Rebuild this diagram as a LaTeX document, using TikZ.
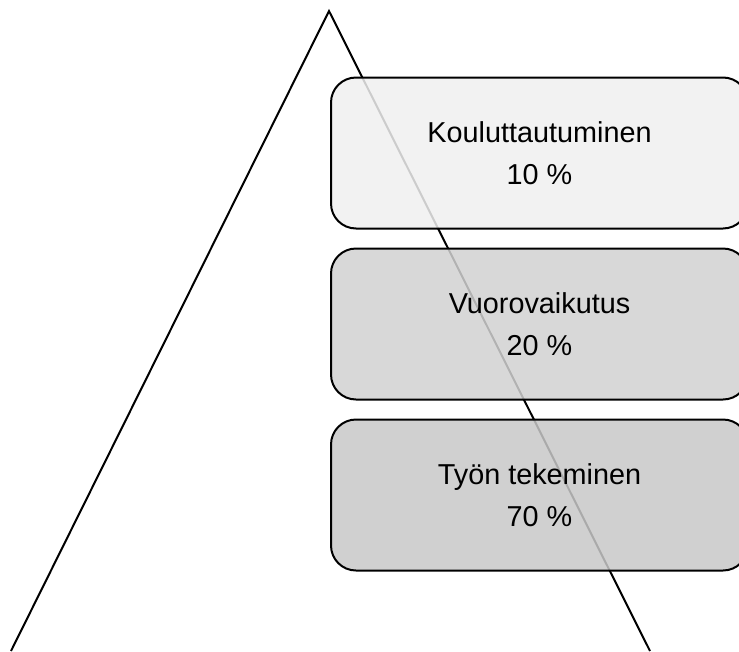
\documentclass[tikz,border=0pt]{standalone}
\usepackage{fontspec}
\setmainfont{Liberation Sans}
\begin{document}
\begin{tikzpicture}[x=1pt,y=-1pt,
  level/.style={draw=black, line width=2pt, rounded corners=25pt,
    fill opacity=0.85, text opacity=1,
    minimum width=417pt, minimum height=151pt, inner sep=0pt,
    align=center, font=\fontsize{28.8pt}{42pt}\selectfont},
  edge/.style={draw=black, line width=2pt, line join=miter}]
  \useasboundingbox (0,0) rectangle (739,651);
  \clip (0,0) rectangle (739,651);
  \fill[white] (0,0) rectangle (739,651);
  % pyramid sides
  \coordinate (apex) at (329,11);
  \coordinate (bl) at (11,651);
  \coordinate (br) at (650,651);
  \draw[edge] (bl) -- (apex) -- (br);
  % levels
  \node[level, fill={rgb,255:red,240;green,240;blue,240}] (k) at (539.5,153)
    {Kouluttautuminen\\10 \%};
  \node[level, fill={rgb,255:red,210;green,210;blue,210}] (v) at (539.5,324)
    {Vuorovaikutus\\20 \%};
  \node[level, fill={rgb,255:red,200;green,200;blue,200}] (t) at (539.5,495)
    {Työn tekeminen\\70 \%};
\end{tikzpicture}
\end{document}
